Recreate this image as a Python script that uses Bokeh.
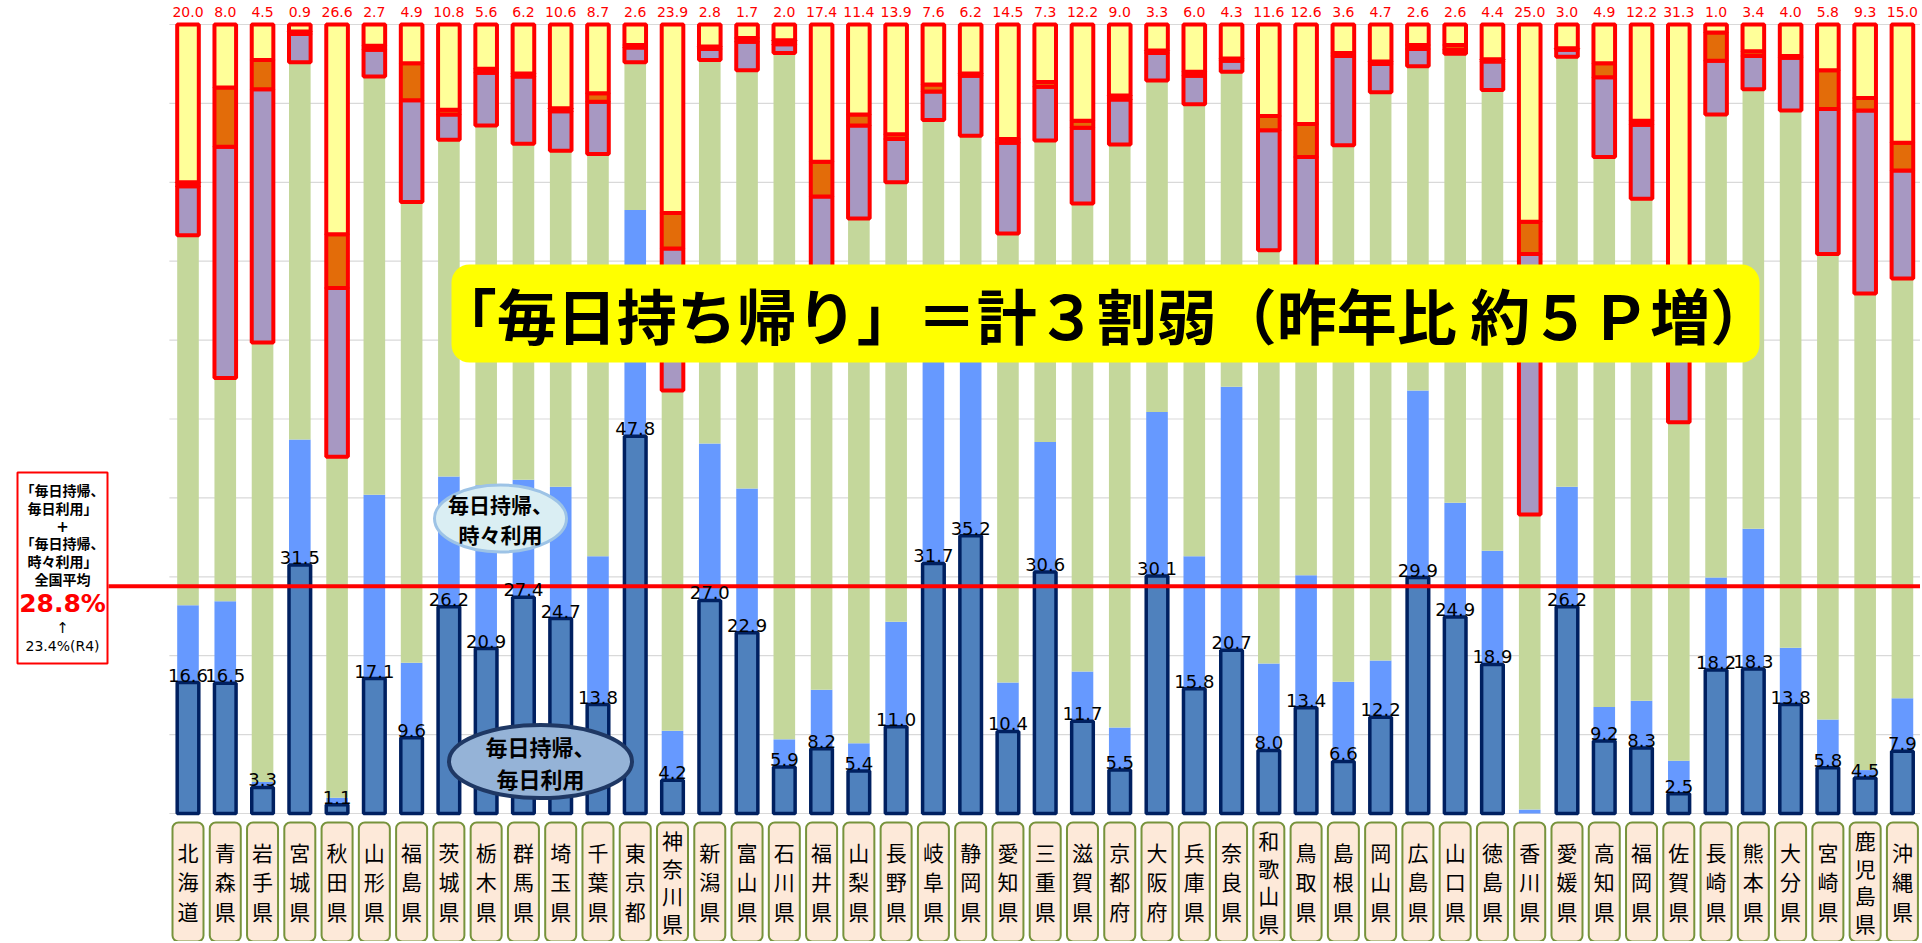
import numpy as np
from bokeh.plotting import figure
from bokeh.models import Range1d, ColumnDataSource
from bokeh.embed import file_html
from bokeh.resources import INLINE
from bokeh.core.properties import value

# ---------------- data ----------------
prefs = ["北海道", "青森県", "岩手県", "宮城県", "秋田県", "山形県", "福島県", "茨城県", "栃木県", "群馬県",
         "埼玉県", "千葉県", "東京都", "神奈川県", "新潟県", "富山県", "石川県", "福井県", "山梨県", "長野県",
         "岐阜県", "静岡県", "愛知県", "三重県", "滋賀県", "京都府", "大阪府", "兵庫県", "奈良県", "和歌山県",
         "鳥取県", "島根県", "岡山県", "広島県", "山口県", "徳島県", "香川県", "愛媛県", "高知県", "福岡県",
         "佐賀県", "長崎県", "熊本県", "大分県", "宮崎県", "鹿児島県", "沖縄県"]

# 毎日持帰、毎日利用
daily_daily = [16.6, 16.5, 3.3, 31.5, 1.1, 17.1, 9.6, 26.2, 20.9, 27.4,
               24.7, 13.8, 47.8, 4.2, 27.0, 22.9, 5.9, 8.2, 5.4, 11.0,
               31.7, 35.2, 10.4, 30.6, 11.7, 5.5, 30.1, 15.8, 20.7, 8.0,
               13.4, 6.6, 12.2, 29.9, 24.9, 18.9, 0.0, 26.2, 9.2, 8.3,
               2.5, 18.2, 18.3, 13.8, 5.8, 4.5, 7.9]
# 毎日持帰、時々利用
daily_sometimes = [9.8, 10.4, 0.7, 15.9, 0.9, 23.3, 9.5, 16.5, 20.7, 14.9,
                   16.7, 18.8, 28.7, 6.3, 19.9, 18.3, 3.5, 7.5, 3.5, 13.3,
                   28.3, 23.8, 6.2, 16.5, 6.3, 5.4, 20.8, 16.8, 33.4, 11.0,
                   16.8, 10.1, 7.2, 23.7, 14.5, 14.4, 0.5, 15.2, 4.3, 6.0,
                   4.2, 11.7, 17.8, 7.2, 6.1, 1.0, 6.7]
green_seg = [46.9, 28.3, 55.7, 47.8, 43.2, 53.0, 58.4, 42.7, 45.6, 42.6,
             42.6, 51.0, 18.7, 43.1, 48.6, 53.0, 87.0, 48.3, 66.5, 55.7,
             27.9, 26.9, 56.9, 38.2, 59.3, 73.9, 42.0, 57.3, 39.9, 52.4,
             33.8, 68.0, 72.0, 41.1, 56.9, 58.4, 37.4, 54.5, 69.7, 63.6,
             42.9, 58.7, 55.7, 68.1, 59.0, 60.4, 53.2]
purple_seg = [6.2, 29.3, 32.1, 3.6, 21.4, 3.4, 12.9, 3.2, 6.7, 8.5,
              5.0, 6.6, 1.9, 18.0, 1.4, 3.6, 1.1, 14.2, 11.8, 5.5,
              3.6, 7.6, 11.5, 6.8, 9.6, 5.7, 3.5, 3.6, 1.4, 15.2,
              19.2, 11.3, 3.6, 2.2, 0.5, 3.6, 33.0, 0.9, 10.1, 9.4,
              17.9, 6.8, 4.2, 6.7, 18.4, 23.2, 13.7]
orange_seg = [0.5, 7.5, 3.7, 0.3, 6.8, 0.5, 4.7, 0.6, 0.5, 0.4,
              0.4, 1.1, 0.3, 4.5, 0.3, 0.5, 0.5, 4.4, 1.4, 0.6,
              0.9, 0.3, 0.5, 0.6, 0.9, 0.5, 0.3, 0.5, 0.3, 1.8,
              4.2, 0.4, 0.3, 0.5, 0.6, 0.3, 4.1, 0.2, 1.8, 0.5,
              1.2, 3.6, 0.6, 0.2, 4.9, 1.6, 3.5]
yellow_seg = [20.0, 8.0, 4.5, 0.9, 26.6, 2.7, 4.9, 10.8, 5.6, 6.2,
              10.6, 8.7, 2.6, 23.9, 2.8, 1.7, 2.0, 17.4, 11.4, 13.9,
              7.6, 6.2, 14.5, 7.3, 12.2, 9.0, 3.3, 6.0, 4.3, 11.6,
              12.6, 3.6, 4.7, 2.6, 2.6, 4.4, 25.0, 3.0, 4.9, 12.2,
              31.3, 1.0, 3.4, 4.0, 5.8, 9.3, 15.0]
national_avg = 28.8
grid_ticks = list(range(0, 101, 10))

# ---------------- layout helpers ----------------
W, H = 1920, 941
OFF = 0
PX_X = 37.27           # px per category
PX_Y = 7.89            # px per percent
x_start = -(187.5 - OFF) / PX_X
x_end = x_start + W / PX_X
y_end = 100 + (24 - OFF) / PX_Y
y_start = y_end - H / PX_Y


def fx(px):
    return x_start + (px - OFF) / PX_X


def fy(py):
    return y_end - (py - OFF) / PX_Y


n = len(prefs)
xs = np.arange(n)
segs = np.array([daily_daily, daily_sometimes, green_seg, purple_seg, orange_seg, yellow_seg])
tops = np.cumsum(segs, axis=0)
tops = tops * (100.0 / tops[-1])
bots = np.vstack([np.zeros(n), tops[:-1]])

p = figure(width=W, height=H, x_range=Range1d(x_start, x_end), y_range=Range1d(y_start, y_end),
           output_backend="svg", toolbar_location=None, x_axis_location=None, y_axis_location=None,
           min_border=0, min_border_left=0, min_border_right=0, min_border_top=0, min_border_bottom=0)
p.grid.visible = False
p.outline_line_color = None
p.background_fill_color = "white"

# grid lines
p.segment(x0=[-0.5] * len(grid_ticks), x1=[n - 0.5] * len(grid_ticks), y0=grid_ticks, y1=grid_ticks,
          line_color="#D9D9D9", line_width=1.2)

BW = 0.58
# light blue + green
p.vbar(x=xs, bottom=bots[1], top=tops[1], width=BW, fill_color="#6699FF", line_color=None)
p.vbar(x=xs, bottom=bots[2], top=tops[2], width=BW, fill_color="#C4D79B", line_color=None)
# dark blue bars
dd = np.array(daily_daily)
mask = dd > 0
p.vbar(x=xs[mask], bottom=0, top=tops[0][mask], width=BW, fill_color="#4F81BD",
       line_color="#002060", line_width=3.5)
# red boxed segments
for k, col in [(3, "#A798C2"), (4, "#E36C09"), (5, "#FFFF99")]:
    p.vbar(x=xs, bottom=bots[k], top=tops[k], width=BW, fill_color=col,
           line_color="#FF0000", line_width=4)

# national average line
p.segment(x0=[fx(108)], x1=[x_end], y0=[national_avg], y1=[national_avg],
          line_color="#FF0000", line_width=4)

# dark value labels
lab_src = ColumnDataSource(dict(x=xs[mask], y=tops[0][mask], t=[f"{v:.1f}" for v in dd[mask]]))
p.text(x="x", y="y", text="t", source=lab_src, text_align="center", text_baseline="bottom",
       text_font=value("DejaVu Sans"), text_font_size="18px", text_color="black", y_offset=-1)

# top yellow labels
p.text(x=xs, y=[fy(11)] * n, text=[f"{v:.1f}" for v in yellow_seg], text_align="center",
       text_baseline="middle", text_font=value("DejaVu Sans"), text_font_size="14px",
       text_color="#FF0000")

# category label boxes
bw = 31 / PX_X
p.quad(left=xs - bw / 2, right=xs + bw / 2, top=[fy(822)] * n, bottom=[fy(941)] * n,
       fill_color="#FDE9D9", line_color="#77933C", line_width=2, border_radius=6)
short_idx = [i for i, s in enumerate(prefs) if len(s) <= 3]
long_idx = [i for i, s in enumerate(prefs) if len(s) > 3]
for idx, lh in [(short_idx, 0.97), (long_idx, 0.93)]:
    p.text(x=xs[idx], y=[fy(881)] * len(idx), text=["\n".join(list(prefs[i])) for i in idx],
           text_align="center", text_baseline="middle", text_font=value("Noto Sans CJK JP"),
           text_font_size="21px", text_line_height=lh, text_color="black")

# banner
p.quad(left=[fx(451)], right=[fx(1759)], top=[fy(264)], bottom=[fy(362)], fill_color="#FFFF00",
       line_color=None, border_radius=18)
p.text(x=[fx(1103)], y=[fy(313)], text=["「毎日持ち帰り」＝計３割弱（昨年比 約５Ｐ増）"],
       text_align="center", text_baseline="middle", text_font=value("Noto Sans CJK JP"),
       text_font_size="60px", text_font_style="bold", text_color="black")

# ellipse callouts
p.ellipse(x=[fx(500)], y=[fy(518)], width=132 / PX_X, height=67 / PX_Y, fill_color="#DAEEF3",
          line_color="#9DC3E6", line_width=3)
p.text(x=[fx(500)], y=[fy(518)], text=["毎日持帰、\n時々利用"], text_align="center",
       text_baseline="middle", text_font=value("Noto Sans CJK JP"), text_font_size="21px",
       text_font_style="bold", text_color="black", text_line_height=1.0)
p.ellipse(x=[fx(540)], y=[fy(761)], width=183 / PX_X, height=73 / PX_Y, fill_color="#95B3D7",
          line_color="#1F3864", line_width=4)
p.text(x=[fx(540)], y=[fy(761)], text=["毎日持帰、\n毎日利用"], text_align="center",
       text_baseline="middle", text_font=value("Noto Sans CJK JP"), text_font_size="22px",
       text_font_style="bold", text_color="black", text_line_height=1.0)

# left annotation box
p.quad(left=[fx(17)], right=[fx(107)], top=[fy(472)], bottom=[fy(663)], fill_color="white",
       line_color="#FF0000", line_width=2)
cx = fx(62)
box_lines = [("「毎日持帰、", 489, "14px", "bold", "black", "Noto Sans CJK JP"),
             ("毎日利用」", 507, "14px", "bold", "black", "Noto Sans CJK JP"),
             ("+", 525, "15px", "bold", "black", "DejaVu Sans"),
             ("「毎日持帰、", 542, "14px", "bold", "black", "Noto Sans CJK JP"),
             ("時々利用」", 560, "14px", "bold", "black", "Noto Sans CJK JP"),
             ("全国平均", 578, "14px", "bold", "black", "Noto Sans CJK JP"),
             (f"{national_avg:.1f}%", 603, "25px", "bold", "#FF0000", "DejaVu Sans"),
             ("↑", 627, "15px", "normal", "black", "DejaVu Sans"),
             ("23.4%(R4)", 645, "14px", "normal", "black", "DejaVu Sans")]
for t, yy, fs, st, colr, fnt in box_lines:
    p.text(x=[cx], y=[fy(yy)], text=[t], text_align="center", text_baseline="middle",
           text_font=value(fnt), text_font_size=fs, text_font_style=st, text_color=colr)

open("out.html", "w").write(file_html(p, INLINE))
